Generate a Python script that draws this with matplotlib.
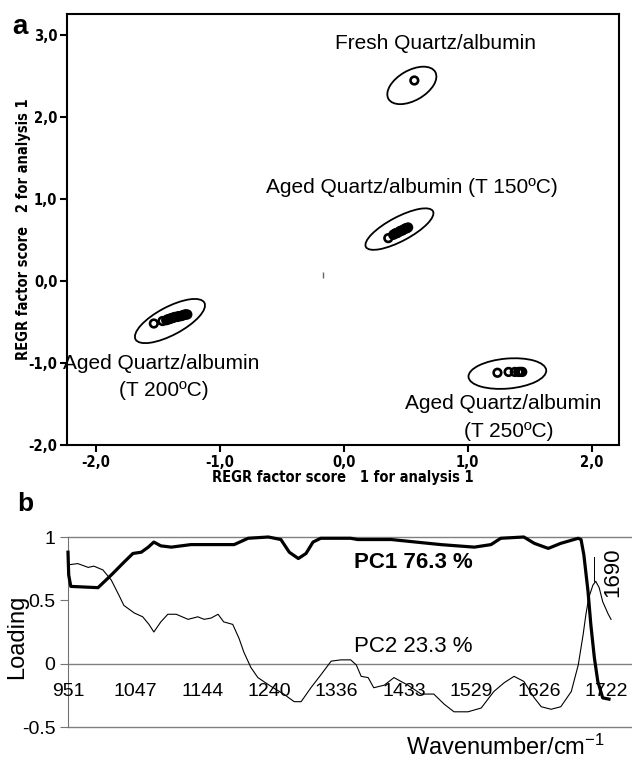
import numpy as np
import matplotlib
matplotlib.use("Agg")
import matplotlib.pyplot as plt
from matplotlib import font_manager
from matplotlib.patches import Ellipse
from matplotlib.transforms import ScaledTranslation

# look for a condensed bold face for panel a's axis text
narrow_bold = None
for f in font_manager.fontManager.ttflist:
    if ("Narrow" in f.name or "Condensed" in f.fname or "condensed" in str(f.stretch)) \
            and f.weight in ("bold", 700) and f.style == "normal":
        narrow_bold = font_manager.FontProperties(fname=f.fname)
        break
if narrow_bold is None:
    narrow_bold = font_manager.FontProperties(family="Liberation Sans", weight="bold")

plt.rcParams["font.family"] = ["Liberation Sans", "DejaVu Sans"]
plt.rcParams["mathtext.default"] = "regular"

# ---- panel a: factor scores ----
fresh_x = [0.57]
fresh_y = [2.44]
t150_x = [0.36, 0.40, 0.41, 0.42, 0.43, 0.44, 0.45, 0.46, 0.47, 0.48, 0.49, 0.50, 0.51, 0.52]
t150_y = [0.52, 0.56, 0.57, 0.58, 0.58, 0.59, 0.60, 0.61, 0.61, 0.62, 0.63, 0.64, 0.64, 0.65]
t200_x = [-1.53, -1.46, -1.43, -1.42, -1.41, -1.40, -1.39, -1.38, -1.37, -1.36, -1.35,
          -1.34, -1.33, -1.32, -1.31, -1.30, -1.29, -1.28, -1.27, -1.26]
t200_y = [-0.52, -0.49, -0.48, -0.47, -0.47, -0.46, -0.46, -0.45, -0.45, -0.44, -0.44,
          -0.44, -0.43, -0.43, -0.43, -0.42, -0.42, -0.41, -0.41, -0.41]
t250_x = [1.24, 1.33, 1.38, 1.41, 1.42, 1.43, 1.44]
t250_y = [-1.12, -1.11, -1.11, -1.11, -1.11, -1.11, -1.11]

# ellipse centres (data), half axes (pixels) and angle (deg)
ell_cx = [0.55, 0.45, -1.40, 1.32]
ell_cy = [2.38, 0.63, -0.49, -1.13]
ell_a = [27, 38, 39, 39]
ell_b = [15, 12, 14, 15]
ell_ang = [30, 28, 28, 5]

labels_a = ["Fresh Quartz/albumin", "Aged Quartz/albumin (T 150ºC)",
            "Aged Quartz/albumin", "(T 200ºC)",
            "Aged Quartz/albumin", "(T 250ºC)"]
label_x = [0.74, 0.55, -1.47, -1.45, 1.29, 1.33]
label_y = [2.89, 1.14, -1.01, -1.34, -1.50, -1.83]

# ---- panel b: loadings ----
pc1_wn = [951, 952, 955, 994, 1013, 1031, 1044, 1056, 1066, 1074, 1084, 1099, 1127,
          1142, 1160, 1189, 1209, 1238, 1256, 1268, 1281, 1292, 1302, 1313, 1356,
          1366, 1414, 1485, 1533, 1557, 1571, 1604, 1619, 1639, 1657, 1682, 1686,
          1690, 1696, 1700, 1705, 1710, 1717, 1726]
pc1 = [0.88, 0.70, 0.61, 0.60, 0.70, 0.80, 0.87, 0.88, 0.92, 0.96, 0.93, 0.92, 0.94,
       0.94, 0.94, 0.94, 0.99, 1.00, 0.98, 0.88, 0.83, 0.87, 0.96, 0.99, 0.99,
       0.98, 0.98, 0.94, 0.92, 0.94, 0.99, 1.00, 0.95, 0.91, 0.95, 0.99, 0.98,
       0.86, 0.57, 0.31, 0.05, -0.14, -0.27, -0.28]
pc2_wn = [951, 965, 980, 988, 1001, 1013, 1024, 1031, 1046, 1058, 1067, 1074, 1084,
          1094, 1106, 1123, 1137, 1146, 1156, 1166, 1174, 1187, 1196, 1203, 1213,
          1223, 1242, 1260, 1275, 1285, 1299, 1313, 1328, 1342, 1356, 1364, 1371,
          1381, 1389, 1404, 1418, 1438, 1457, 1475, 1490, 1504, 1524, 1543, 1561,
          1576, 1590, 1604, 1619, 1629, 1643, 1657, 1672, 1682, 1689, 1693, 1697,
          1703, 1707, 1712, 1717, 1725, 1729]
pc2 = [0.78, 0.79, 0.76, 0.77, 0.74, 0.66, 0.54, 0.46, 0.40, 0.37, 0.31, 0.25, 0.33,
       0.39, 0.39, 0.35, 0.37, 0.35, 0.36, 0.39, 0.33, 0.31, 0.20, 0.09, -0.03,
       -0.11, -0.18, -0.24, -0.30, -0.30, -0.19, -0.09, 0.02, 0.03, 0.03, -0.01, -0.10,
       -0.11, -0.19, -0.17, -0.11, -0.17, -0.24, -0.24, -0.32, -0.38, -0.38, -0.35, -0.22,
       -0.15, -0.10, -0.14, -0.27, -0.34, -0.36, -0.34, -0.22, -0.01, 0.23, 0.39, 0.52,
       0.62, 0.65, 0.60, 0.49, 0.39, 0.35]
wn_ticks = [951, 1047, 1144, 1240, 1336, 1433, 1529, 1626, 1722]

fig = plt.figure(figsize=(6.32, 7.59), dpi=100)

# ================= panel a =================
ax = fig.add_axes([67 / 632, 1 - 445 / 759, 552 / 632, 431 / 759])
ax.set_xlim(-2.23, 2.22)
ax.set_ylim(-2.0, 3.25)
for sp in ax.spines.values():
    sp.set_linewidth(1.5)
ax.set_xticks([-2, -1, 0, 1, 2])
ax.set_yticks([-2, -1, 0, 1, 2, 3])
ax.set_xticklabels(["-2,0", "-1,0", "0,0", "1,0", "2,0"])
ax.set_yticklabels(["-2,0", "-1,0", "0,0", "1,0", "2,0", "3,0"])
ax.tick_params(direction="out", length=5, width=1.5, pad=2)
for lab in ax.get_xticklabels() + ax.get_yticklabels():
    lab.set_fontproperties(narrow_bold)
    lab.set_fontsize(10.5)

for xs, ys in [(fresh_x, fresh_y), (t150_x, t150_y), (t200_x, t200_y), (t250_x, t250_y)]:
    ax.scatter(xs, ys, s=30, facecolors="none", edgecolors="black", linewidths=1.9, zorder=3)

for cx, cy, a, b, ang in zip(ell_cx, ell_cy, ell_a, ell_b, ell_ang):
    tr = fig.dpi_scale_trans + ScaledTranslation(cx, cy, ax.transData)
    ax.add_patch(Ellipse((0, 0), 2 * a / 100, 2 * b / 100, angle=ang, transform=tr,
                         fill=False, edgecolor="black", linewidth=1.3))

for t, x, y in zip(labels_a, label_x, label_y):
    ax.text(x, y, t, ha="center", va="center", fontsize=15, zorder=4)

ax.plot([-0.17], [0.07], marker="|", ms=4, color="0.4", mew=1)

ax.set_xlabel("REGR factor score   1 for analysis 1", fontproperties=narrow_bold)
ax.xaxis.label.set_fontsize(10.5)
ax.xaxis.set_label_coords(0.5, -0.058)
ax.set_ylabel("REGR factor score   2 for analysis 1", fontproperties=narrow_bold)
ax.yaxis.label.set_fontsize(10.5)
ax.yaxis.set_label_coords(-0.066, 0.5)

fig.text(20 / 632, 1 - 27 / 759, "a", fontsize=20, fontweight="bold", ha="center", va="center")

# ================= panel b =================
bx = fig.add_axes([68 / 632, 1 - 727 / 759, 564 / 632, 190 / 759])
bx.set_xlim(951, 1759)
bx.set_ylim(-0.5, 1.0)
for s in ["top", "right", "bottom"]:
    bx.spines[s].set_visible(False)
bx.spines["left"].set_color("0.45")
for yv in [1.0, 0.0, -0.5]:
    bx.axhline(yv, color="0.5", lw=1, zorder=1, clip_on=False)
bx.set_xticks([])
bx.set_yticks([-0.5, 0, 0.5, 1])
bx.set_yticklabels(["-0.5", "0", "0.5", "1"])
bx.tick_params(axis="y", direction="out", length=6, color="0.45", labelsize=14, pad=3)

bx.plot(pc2_wn, pc2, color="black", lw=0.8, zorder=2, clip_on=False)
bx.plot(pc1_wn, pc1, color="black", lw=2.3, zorder=3, clip_on=False)

for w in wn_ticks:
    bx.text(w, -0.22, str(w), ha="center", va="center", fontsize=14, zorder=4)

bx.text(1361, 0.80, "PC1 76.3 %", fontsize=16, fontweight="bold", va="center", ha="left")
bx.text(1361, 0.134, "PC2 23.3 %", fontsize=16, va="center", ha="left")
bx.plot([1705, 1705], [0.65, 0.84], color="black", lw=0.7)
bx.text(1732, 0.72, "1690", rotation=90, fontsize=16, ha="center", va="center")

fig.text(17 / 632, 1 - 637 / 759, "Loading", rotation=90, fontsize=17, ha="center", va="center")
fig.text(605 / 632, 1 - 747 / 759, "Wavenumber/cm$^{-1}$", fontsize=17, ha="right", va="center")
fig.text(25 / 632, 1 - 504 / 759, "b", fontsize=19, fontweight="bold", ha="center", va="center")

fig.savefig("out.png", dpi=100)
